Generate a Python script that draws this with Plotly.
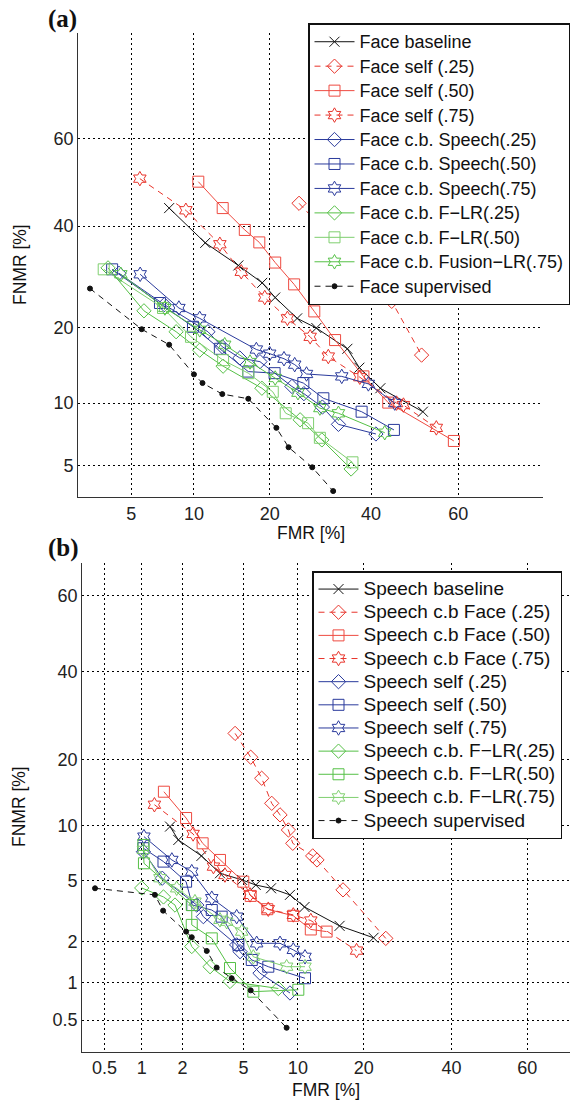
import plotly.graph_objects as go
from statistics import NormalDist

ND = NormalDist()


def pr(vals):
    return [ND.inv_cdf(v / 100.0) for v in vals]


# ---------------- Panel (a): Face ----------------
face_base_fmr = [7.7, 11.2, 15.3, 18.8, 20.9, 24.75, 28.4, 34.8, 37.4, 42.1, 51.9]
face_base_fnmr = [44.1, 36.3, 31.5, 28.0, 25.2, 21.5, 19.9, 16.7, 14.1, 11.6, 9.15]

face_s25_fmr = [25.1, 44.7, 51.6]
face_s25_fnmr = [45.2, 24.5, 15.8]

face_s50_fmr = [10.45, 13.25, 16.2, 18.35, 20.9, 24.2, 28.0, 32.2, 38.3, 43.9, 59.0]
face_s50_fnmr = [50.2, 44.1, 39.15, 36.4, 32.1, 27.7, 22.7, 18.0, 13.0, 10.05, 6.66]

face_s75_fmr = [5.53, 9.2, 12.9, 15.7, 19.2, 23.0, 27.2, 30.8, 37.5, 45.8, 47.4, 55.0]
face_s75_fnmr = [50.9, 43.6, 36.0, 30.2, 25.2, 21.5, 18.5, 15.6, 12.9, 10.0, 9.8, 7.7]

face_sp25_fmr = [4.3, 7.3, 11.5, 13.2, 15.5, 18.45, 23.8, 26.0, 29.6, 32.9, 41.1]
face_sp25_fnmr = [29.9, 23.9, 19.3, 17.0, 15.4, 14.9, 11.8, 11.0, 9.6, 8.0, 7.2]

face_sp50_fmr = [3.95, 6.96, 9.9, 12.9, 16.7, 20.8, 25.9, 29.8, 37.9, 45.2]
face_sp50_fnmr = [30.7, 24.2, 20.1, 16.7, 13.6, 13.4, 12.2, 10.5, 9.15, 7.53]

face_sp75_fmr = [5.55, 8.55, 10.6, 17.9, 20.0, 22.4, 24.3, 26.5, 33.6, 39.4, 45.4]
face_sp75_fnmr = [29.7, 23.3, 21.5, 16.6, 16.0, 15.3, 14.5, 13.3, 13.0, 12.1, 10.0]

face_fl25_fmr = [3.75, 5.8, 8.3, 10.6, 13.3, 18.75, 25.3, 29.5, 35.6]
face_fl25_fnmr = [31.0, 22.8, 19.3, 16.5, 14.3, 11.6, 8.4, 6.74, 4.8]

face_fl50_fmr = [3.55, 7.2, 9.7, 13.3, 16.7, 20.5, 22.7, 26.8, 29.1, 35.9]
face_fl50_fnmr = [30.7, 23.3, 18.5, 15.1, 13.4, 11.2, 9.0, 8.1, 6.9, 5.2]

face_fl75_fmr = [4.4, 7.35, 10.6, 13.5, 16.95, 20.9, 24.9, 29.1, 32.9, 43.1]
face_fl75_fnmr = [29.7, 23.3, 19.6, 17.3, 14.85, 12.8, 11.1, 9.5, 9.0, 7.3]

face_sup_fmr = [2.97, 5.65, 7.7, 10.0, 10.9, 13.2, 16.7, 21.1, 23.2, 27.6, 31.8]
face_sup_fnmr = [26.9, 19.7, 17.3, 13.25, 12.2, 10.95, 10.45, 7.7, 6.2, 4.9, 3.65]

# ---------------- Panel (b): Speech ----------------
sp_base_fmr = [1.63, 1.87, 2.7, 3.57, 4.9, 5.9, 7.2, 9.1, 10.8, 15.8, 21.9]
sp_base_fnmr = [9.92, 8.45, 6.92, 5.51, 5.03, 4.69, 4.48, 4.08, 3.42, 2.57, 2.13]

sp_f25_fmr = [4.44, 5.51, 6.38, 7.26, 8.06, 8.93, 9.41, 11.85, 12.43, 16.36, 24.4]
sp_f25_fnmr = [25.3, 20.5, 16.75, 12.9, 11.35, 9.53, 8.11, 6.92, 6.57, 4.38, 2.11]

sp_f50_fmr = [1.47, 2.12, 2.75, 3.57, 4.98, 5.51, 6.86, 9.47, 11.6, 13.8]
sp_f50_fnmr = [14.6, 10.95, 8.11, 6.57, 4.91, 4.02, 3.31, 3.0, 2.43, 2.35]

sp_f75_fmr = [1.25, 2.37, 3.24, 3.84, 5.46, 6.95, 9.47, 11.6, 18.7]
sp_f75_fnmr = [12.7, 9.09, 6.02, 5.38, 4.08, 3.31, 3.04, 2.79, 1.73]

sp_s25_fmr = [1.03, 1.43, 2.51, 2.78, 4.54, 4.76, 6.24, 9.1]
sp_s25_fnmr = [7.3, 5.15, 3.52, 2.96, 1.9, 1.7, 1.18, 0.83]

sp_s50_fmr = [1.03, 1.46, 2.12, 2.34, 3.16, 3.66, 4.65, 5.59, 6.95, 10.86]
sp_s50_fnmr = [7.63, 6.43, 4.91, 3.52, 3.27, 2.96, 1.9, 1.48, 1.32, 1.08]

sp_s75_fmr = [1.04, 1.68, 2.32, 3.16, 4.54, 5.97, 8.06, 9.47, 10.86]
sp_s75_fnmr = [8.8, 6.57, 5.63, 3.89, 2.96, 1.95, 1.95, 1.75, 1.56]

sp_fl25_fmr = [1.0, 1.46, 1.77, 2.32, 3.08, 4.13, 7.89]
sp_fl25_fnmr = [4.5, 3.96, 3.52, 1.85, 1.32, 1.02, 0.90]

sp_fl50_fmr = [1.03, 1.04, 2.32, 2.32, 3.16, 4.13, 5.71, 10.05]
sp_fl50_fnmr = [7.95, 6.29, 3.52, 2.61, 2.11, 1.29, 0.85, 0.88]

sp_fl75_fmr = [1.03, 1.375, 1.82, 2.44, 3.57, 3.94, 4.87, 5.71, 8.74, 10.86]
sp_fl75_fnmr = [7.47, 5.15, 4.48, 3.7, 2.82, 2.74, 2.35, 1.56, 1.32, 1.32]

sp_sup_fmr = [0.416, 1.26, 1.45, 2.12, 2.32, 2.93, 3.40, 4.23, 5.51, 8.74]
sp_sup_fnmr = [4.48, 4.08, 3.24, 2.35, 2.15, 1.72, 1.30, 1.08, 0.87, 0.43]

# ticks
a_ticks = [5, 10, 20, 40, 60]
b_ticks = [0.5, 1, 2, 5, 10, 20, 40, 60]

BLACK = "#111111"
RED = "#e8332a"
RED2 = "#ee4a40"
BLUE = "#2a3a9c"
GREEN = "#55c046"
GREEN2 = "#7fcf6f"

DASH = "6px,5px"

fig = go.Figure()


def add(xv, yv, name, color, symbol, dash, size, xa, ya, legend, tsize):
    fig.add_trace(go.Scatter(
        x=pr(xv), y=pr(yv),
        name=f'<span style="font-size:{tsize}px">{name}</span>',
        mode="lines+markers",
        line=dict(color=color, width=1.0, dash=dash),
        marker=dict(symbol=symbol, size=size, color=color,
                    line=dict(color=color, width=1.0)),
        xaxis=xa, yaxis=ya, legend=legend, hoverinfo="skip"))


# Panel (a) traces
A = ("x", "y", "legend", 18)
add(face_base_fmr, face_base_fnmr, "Face baseline", BLACK, "x-thin-open", "solid", 10, *A)
add(face_s25_fmr, face_s25_fnmr, "Face self (.25)", RED, "diamond-open", DASH, 11, *A)
add(face_s50_fmr, face_s50_fnmr, "Face self (.50)", RED2, "square-open", "solid", 11, *A)
add(face_s75_fmr, face_s75_fnmr, "Face self (.75)", RED, "hexagram-open", DASH, 11, *A)
add(face_sp25_fmr, face_sp25_fnmr, "Face c.b. Speech(.25)", BLUE, "diamond-open", "solid", 11, *A)
add(face_sp50_fmr, face_sp50_fnmr, "Face c.b. Speech(.50)", BLUE, "square-open", "solid", 11, *A)
add(face_sp75_fmr, face_sp75_fnmr, "Face c.b. Speech(.75)", BLUE, "hexagram-open", "solid", 11, *A)
add(face_fl25_fmr, face_fl25_fnmr, "Face c.b. F\u2212LR(.25)", GREEN, "diamond-open", "solid", 11, *A)
add(face_fl50_fmr, face_fl50_fnmr, "Face c.b. F\u2212LR(.50)", GREEN2, "square-open", "solid", 11, *A)
add(face_fl75_fmr, face_fl75_fnmr, "Face c.b. Fusion\u2212LR(.75)", GREEN, "hexagram-open", "solid", 11, *A)
add(face_sup_fmr, face_sup_fnmr, "Face supervised", BLACK, "circle", DASH, 5, *A)

# Panel (b) traces
B = ("x2", "y2", "legend2", 19)
add(sp_base_fmr, sp_base_fnmr, "Speech baseline", BLACK, "x-thin-open", "solid", 10, *B)
add(sp_f25_fmr, sp_f25_fnmr, "Speech c.b Face (.25)", RED, "diamond-open", DASH, 11, *B)
add(sp_f50_fmr, sp_f50_fnmr, "Speech c.b Face (.50)", RED2, "square-open", "solid", 11, *B)
add(sp_f75_fmr, sp_f75_fnmr, "Speech c.b Face (.75)", RED, "hexagram-open", DASH, 11, *B)
add(sp_s25_fmr, sp_s25_fnmr, "Speech self (.25)", BLUE, "diamond-open", "solid", 11, *B)
add(sp_s50_fmr, sp_s50_fnmr, "Speech self (.50)", BLUE, "square-open", "solid", 11, *B)
add(sp_s75_fmr, sp_s75_fnmr, "Speech self (.75)", BLUE, "hexagram-open", "solid", 11, *B)
add(sp_fl25_fmr, sp_fl25_fnmr, "Speech c.b. F\u2212LR(.25)", GREEN, "diamond-open", "solid", 11, *B)
add(sp_fl50_fmr, sp_fl50_fnmr, "Speech c.b. F\u2212LR(.50)", GREEN, "square-open", "solid", 11, *B)
add(sp_fl75_fmr, sp_fl75_fnmr, "Speech c.b. F\u2212LR(.75)", GREEN2, "hexagram-open", "solid", 11, *B)
add(sp_sup_fmr, sp_sup_fnmr, "Speech supervised", BLACK, "circle", DASH, 5, *B)

W, H = 575, 1105
FONT = "Liberation Sans, Arial, sans-serif"
TICKFONT = dict(family=FONT, size=18, color="#222222")


def axis(ticks, rng, dom, anchor):
    return dict(
        domain=dom, range=rng, anchor=anchor,
        tickmode="array", tickvals=pr(ticks), ticktext=[f"{t:g}" for t in ticks],
        showgrid=True, gridcolor="#000000", gridwidth=1, griddash="2px,3px",
        zeroline=False, showline=True, linecolor="#333333", linewidth=1.3,
        ticks="", tickfont=TICKFONT, mirror=False, fixedrange=True)


layout = dict(
    width=W, height=H, margin=dict(l=0, r=0, t=0, b=0),
    paper_bgcolor="white", plot_bgcolor="white", showlegend=True,
    font=dict(family=FONT, color="#111111"),
    xaxis=axis(a_ticks, [-1.953, 0.745], [78.3 / W, 543 / W], "y"),
    yaxis=axis(a_ticks, [-1.829, 0.869], [1 - 497.3 / H, 1 - 33 / H], "x"),
    xaxis2=axis(b_ticks, [-2.724, 0.539], [82.3 / W, 570 / W], "y2"),
    yaxis2=axis(b_ticks, [-2.787, 0.469], [1 - 1051.7 / H, 1 - 563.3 / H], "x2"),
    legend=dict(x=308 / W, y=1 - 23 / H, xanchor="left", yanchor="top",
                bgcolor="white", bordercolor="#111111", borderwidth=1.5,
                font=dict(family=FONT, size=16.5, color="#111111"),
                itemwidth=40, tracegroupgap=0),
    legend2=dict(x=312 / W, y=1 - 571 / H, xanchor="left", yanchor="top",
                 bgcolor="white", bordercolor="#111111", borderwidth=1.5,
                 font=dict(family=FONT, size=15.5, color="#111111"),
                 itemwidth=40, tracegroupgap=0),
)
fig.update_layout(**layout)

SERIF = "Liberation Serif, Times New Roman, serif"


def note(text, x, y, size, family=FONT, angle=0):
    return dict(text=text, x=x / W, y=1 - y / H, xref="paper", yref="paper",
                xanchor="center", yanchor="middle", showarrow=False,
                textangle=angle, font=dict(family=family, size=size, color="#111111"))


ann = [
    note("<b>(a)</b>", 62, 19, 25, SERIF),
    note("<b>(b)</b>", 63, 548, 25, SERIF),
    note("FMR [%]", 310.5, 533, 17.5),
    note("FMR [%]", 326, 1090, 17.5),
    note("FNMR [%]", 20, 265, 17.5, angle=-90),
    note("FNMR [%]", 19, 807, 17.5, angle=-90),
]
fig.update_layout(annotations=ann)

fig.write_html("out.html")
